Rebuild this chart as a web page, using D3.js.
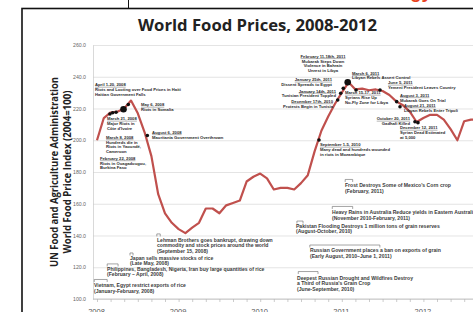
<!DOCTYPE html>
<html>
<head>
<meta charset="utf-8">
<script src="https://cdn.jsdelivr.net/npm/d3@7/dist/d3.min.js"></script>
<style>
  body{margin:0;background:#fff;}
  svg{display:block;font-family:"Liberation Sans",Arial,sans-serif;}
</style>
</head>
<body>
<svg id="chart" width="473" height="312"></svg>
<script>
// FAO food price index, one value per month from Jan 2008
const priceIndex = [
  200, 214, 217.5, 218, 220, 225, 217, 205, 190, 166, 154, 148,
  144, 141.5, 145, 148, 157, 157, 154, 159, 160.5, 162, 174, 177,
  179, 176, 169, 170, 170, 169, 173, 178, 193, 206, 215, 223,
  230, 236.5, 232, 232.5, 231.5, 232, 231, 228.5, 224.5, 222, 218, 211.5,
  214, 216, 216, 213, 207, 200, 212, 213, 213
]
const yearLabels = ['2008','2009','2010','2011','2012']
const yTicks = [100,120,140,160,180,200,220,240,260]

// riot / unrest events on the curve (month index, index value)
const dotMonth = [1.9, 2.3, 2.8, 3.9, 4.6, 7.4, 32.65, 35.4, 35.84, 36.22, 36.87, 38.1, 41.62, 44.07, 44.56, 46.76, 47.2]
const dotValue = [216.5, 217.3, 217.6, 219.5, 222.5, 203, 200.2, 225.4, 229.6, 232.7, 236.5, 231.7, 231.7, 224.3, 221.1, 211.7, 211.1]
const dotMajor = [0,0,0,1,0,0,0,0,0,0,1,0,0,0,0,0,0]

// event notes anchored in (month, index) units
const riotNotes = [
  {m:-0.29, v:234.8, a:'start', lines:['April 1-20, 2008','Riots and Looting over Food Prices in Haiti','Haitian Government Falls']},
  {m:6.47, v:222.2, a:'start', lines:['May 6, 2008','Riots in Somalia']},
  {m:1.47, v:213.4, a:'start', lines:['March 21, 2008','Major Riots in','Côte d\'Ivoire']},
  {m:8.09, v:204.9, a:'start', lines:['August 6, 2008','Mauritania Government Overthrown']},
  {m:1.32, v:201.7, a:'start', lines:['March 8, 2008','Hundreds die in','Riots in Yaoundé,','Cameroon']},
  {m:0.44, v:188.5, a:'start', lines:['February 22, 2008','Riots in Ouagadougou,','Burkina Faso']},
  {m:33.24, v:252.8, a:'middle', lines:['February 11-18th, 2011','Mubarak Steps Down','Violence in Bahrain','Unrest in Libya']},
  {m:34.56, v:238.0, a:'end', lines:['January 25th, 2011','Dissent Spreads to Egypt']},
  {m:35.15, v:231.0, a:'end', lines:['January 14th, 2011','Tunisian President Toppled']},
  {m:34.71, v:224.4, a:'end', lines:['December 17th, 2010','Protests Begin in Tunisia']},
  {m:37.5, v:242.1, a:'start', lines:['March 6, 2011','Libyan Rebels Assert Control']},
  {m:42.79, v:236.1, a:'start', lines:['June 5, 2011','Yemeni President Leaves Country']},
  {m:36.47, v:229.8, a:'start', lines:['March 15-17, 2011','Syrians Rise Up','No-Fly Zone for Libya']},
  {m:44.56, v:228.2, a:'start', lines:['August 3, 2011','Mubarak Goes On Trial']},
  {m:45.15, v:221.9, a:'start', lines:['August 21, 2011','Libyan Rebels Enter Tripoli']},
  {m:46.03, v:213.4, a:'end', lines:['October 20, 2011','Gadhafi Killed']},
  {m:44.56, v:207.7, a:'start', lines:['December 12, 2011','Syrian Dead Estimated','at 5,000']},
  {m:32.79, v:197.0, a:'start', lines:['September 1-5, 2010','Many dead and hundreds wounded','in riots in Mozambique']}
]

// supply shock notes with the time span they cover
const supplyNotes = [
  {m:8.82, v:137.2, from:8.8, to:9.3, bv:141.0, lines:['Lehman Brothers goes bankrupt, drawing down','commodity and stock prices around the world','(September 15, 2008)']},
  {m:4.85, v:125.8, from:4.85, to:5.3, bv:129.0, lines:['Japan sells massive stocks of rice','(Late May, 2008)']},
  {m:1.47, v:118.9, from:1.5, to:3.1, bv:122.1, lines:['Philippines, Bangladesh, Nigeria, Iran buy large quantities of rice','(February – April, 2008)']},
  {m:-0.44, v:108.5, from:-0.4, to:1.5, bv:112.3, lines:['Vietnam, Egypt restrict exports of rice','(January-February, 2008)']},
  {m:29.41, v:113.2, from:29.6, to:32.5, bv:117.3, lines:['Deepest Russian Drought and Wildfires Destroy','a Third of Russia\'s Grain Crop','(June-September, 2010)']},
  {m:31.32, v:130.6, from:31.3, to:41.6, bv:134.0, lines:['Russian Government places a ban on exports of grain','(Early August, 2010–June 1, 2011)']},
  {m:29.26, v:146.0, from:29.4, to:30.3, bv:149.1, lines:['Pakistan Flooding Destroys 1 million tons of grain reserves','(August-October, 2010)']},
  {m:34.56, v:154.5, from:34.6, to:37.6, bv:158.3, lines:['Heavy Rains in Australia Reduce yields in Eastern Australia','(November 2010-February, 2011)']},
  {m:36.47, v:171.5, from:36.5, to:37.6, bv:175.3, lines:['Frost Destroys Some of Mexico\'s Corn crop','(February, 2011)']}
]

const W = 473, H = 312
const svg = d3.select('#chart')

const x = d3.scaleLinear().domain([0,60]).range([97, 97 + 60*6.8])
const y = d3.scaleLinear().domain([100,260]).range([299,45])
const axisX = 93

// fit a text element to a given width by scaling its font size
function fitWidth(sel, w){
  const fs = parseFloat(sel.attr('font-size'))
  const len = sel.node().getComputedTextLength()
  sel.attr('font-size', fs * w / len)
}

// page frame and the bit of slide above it
const red = svg.append('text')
  .attr('x',432).attr('y',-2.5)
  .attr('text-anchor','end')
  .attr('font-size',18).attr('font-weight','bold')
  .attr('fill','#e8401c')
  .text('Food Riot Chronology')
fitWidth(red, 199)
svg.append('line').attr('x1',128.5).attr('x2',128.5).attr('y1',0).attr('y2',8)
  .attr('stroke','#111').attr('stroke-width',1)
svg.append('rect').attr('x',22).attr('y',8.5).attr('width',W+20).attr('height',H+20)
  .attr('fill','#fff').attr('stroke','#111').attr('stroke-width',1.6)

// title
svg.append('text')
  .attr('x',257.5).attr('y',30.5)
  .attr('text-anchor','middle')
  .attr('font-family','"Open Sans",sans-serif')
  .attr('font-weight','bold').attr('font-size',15.5).attr('fill','#222')
  .attr('textLength',239).attr('lengthAdjust','spacingAndGlyphs')
  .text('World Food Prices, 2008-2012')

// y axis title, two lines
svg.append('text')
  .attr('transform','translate(53.5,172) rotate(-90)')
  .attr('text-anchor','middle').attr('dominant-baseline','central')
  .attr('font-family','"Open Sans",sans-serif')
  .attr('font-weight','bold').attr('font-size',10.5).attr('fill','#222')
  .attr('textLength',190).attr('lengthAdjust','spacingAndGlyphs')
  .text('UN Food and Agriculture Administration')
svg.append('text')
  .attr('transform','translate(67,172) rotate(-90)')
  .attr('text-anchor','middle').attr('dominant-baseline','central')
  .attr('font-family','"Open Sans",sans-serif')
  .attr('font-weight','bold').attr('font-size',10.5).attr('fill','#222')
  .attr('textLength',163).attr('lengthAdjust','spacingAndGlyphs')
  .text('World Food Price Index (2004=100)')

// gridlines
const grid = svg.append('g').attr('transform',`translate(${axisX},0)`)
  .call(d3.axisLeft(y).tickValues(yTicks).tickSize(-(W-axisX)).tickFormat(''))
grid.select('.domain').remove()
grid.selectAll('line').attr('stroke','#d9d9d9').attr('stroke-width',0.7)

// y labels
const yAx = svg.append('g').attr('transform',`translate(${axisX},0)`)
  .call(d3.axisLeft(y).tickValues(yTicks).tickSize(0).tickPadding(7).tickFormat(d3.format('.1f')))
yAx.select('.domain').attr('stroke','#c8c8c8').attr('stroke-width',0.7)
yAx.selectAll('text').attr('font-size',5.2).attr('fill','#666').attr('font-family','"Liberation Sans",Arial,sans-serif')

// x axis ticks and year labels
const xAx = svg.append('g').attr('transform',`translate(0,${y(100)})`)
  .call(d3.axisBottom(x).tickValues(d3.range(0,60,2)).tickSize(3).tickFormat(''))
xAx.select('.domain').remove()
xAx.selectAll('line').attr('stroke','#aaa').attr('stroke-width',0.6)
svg.append('line').attr('x1',axisX).attr('x2',W).attr('y1',y(100)).attr('y2',y(100))
  .attr('stroke','#bbb').attr('stroke-width',0.8)

const yearAx = svg.append('g').attr('transform',`translate(-1,${y(100)})`)
  .call(d3.axisBottom(x).tickValues([0,12,24,36,48]).tickSize(0).tickPadding(9.5).tickFormat(d=>yearLabels[d/12]))
yearAx.select('.domain').remove()
yearAx.selectAll('text').attr('font-size',7.5).attr('fill','#555').attr('font-family','"Liberation Sans",Arial,sans-serif')

// price line
const line = d3.line().x((d,i)=>x(i)).y(d=>y(d))
svg.append('path').datum(priceIndex)
  .attr('d',line)
  .attr('fill','none')
  .attr('stroke','#c0504d')
  .attr('stroke-width',2.2)
  .attr('stroke-linejoin','round')

// event dots
svg.append('g').selectAll('circle')
  .data(dotMonth)
  .join('circle')
  .attr('cx',d=>x(d))
  .attr('cy',(d,i)=>y(dotValue[i]))
  .attr('r',(d,i)=>dotMajor[i] ? 3.3 : 1.8)
  .attr('fill','#111')

// multi line note, optional underline on the first line
function note(g, n, fs, lh, anchor, underline, fill){
  const x0 = x(n.m), y0 = y(n.v) + fs*0.35
  n.lines.forEach((s,i)=>{
    const t = g.append('text')
      .attr('x',x0).attr('y',y0 + i*lh)
      .attr('text-anchor',anchor)
      .attr('font-size',fs).attr('font-weight','bold')
      .attr('fill',fill)
      .text(s)
    if(underline && i==0){
      const w = t.node().getComputedTextLength()
      const sx = anchor=='start' ? x0 : anchor=='end' ? x0-w : x0-w/2
      g.append('line').attr('x1',sx).attr('x2',sx+w)
        .attr('y1',y0+0.7).attr('y2',y0+0.7)
        .attr('stroke',fill).attr('stroke-width',0.35)
    }
  })
}

const riotG = svg.append('g')
riotNotes.forEach(n=>note(riotG, n, 4.2, 4.6, n.a, true, '#2a2a2a'))

const supplyG = svg.append('g')
supplyNotes.forEach(n=>{
  const by = y(n.bv)
  supplyG.append('path')
    .attr('d',`M${x(n.from)},${by+2.5}V${by}H${x(n.to)}V${by+2.5}`)
    .attr('fill','none').attr('stroke','#666').attr('stroke-width',0.6)
  note(supplyG, n, 5.1, 5.6, 'start', false, '#3a3a3a')
})
</script>
</body>
</html>
